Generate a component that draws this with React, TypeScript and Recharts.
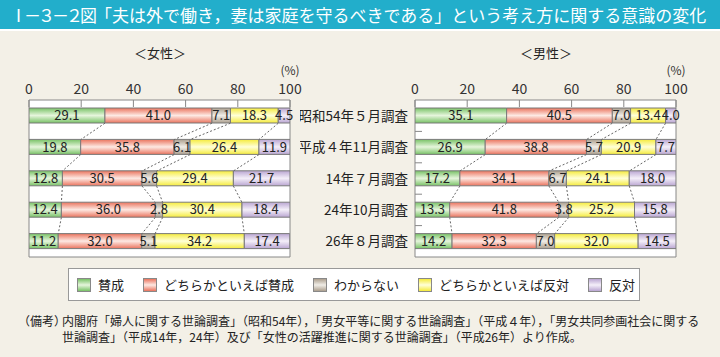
import { BarChart, Bar, XAxis, YAxis, CartesianGrid, LabelList, ReferenceLine } from "recharts";

const categories = ["昭和54年５月調査", "平成４年11月調査", "14年７月調査", "24年10月調査", "26年８月調査"];
const seriesNames = ["賛成", "どちらかといえば賛成", "わからない", "どちらかといえば反対", "反対"];
const xTicks = [0, 20, 40, 60, 80, 100];

const femaleAgree = [29.1, 19.8, 12.8, 12.4, 11.2];
const femaleSomewhatAgree = [41.0, 35.8, 30.5, 36.0, 32.0];
const femaleDontKnow = [7.1, 6.1, 5.6, 2.8, 5.1];
const femaleSomewhatDisagree = [18.3, 26.4, 29.4, 30.4, 34.2];
const femaleDisagree = [4.5, 11.9, 21.7, 18.4, 17.4];

const maleAgree = [35.1, 26.9, 17.2, 13.3, 14.2];
const maleSomewhatAgree = [40.5, 38.8, 34.1, 41.8, 32.3];
const maleDontKnow = [7.0, 5.7, 6.7, 3.8, 7.0];
const maleSomewhatDisagree = [13.4, 20.9, 24.1, 25.2, 32.0];
const maleDisagree = [4.0, 7.7, 18.0, 15.8, 14.5];

// edge colour / highlight colour for each series
const colors = [
  ["#78c266", "#e6f5dc"],
  ["#ea735d", "#fde9e3"],
  ["#ac9f8e", "#f0ede7"],
  ["#f5eb3c", "#ffffd8"],
  ["#baa6d2", "#f4eff9"],
];

const BAR = 15;
const PLOT_H = 157;
const BAND = PLOT_H / categories.length;
const FONT = "'Noto Sans CJK JP', 'Noto Sans', sans-serif";

function buildRows(series: number[][]) {
  return categories.map((label, i) => {
    const row: any = { label };
    series.forEach((s, k) => (row["s" + k] = s[i]));
    return row;
  });
}

function cumulative(series: number[][]) {
  return categories.map((_, i) => {
    let acc = 0;
    return series.map((s) => (acc += s[i]));
  });
}

const femaleSeries = [femaleAgree, femaleSomewhatAgree, femaleDontKnow, femaleSomewhatDisagree, femaleDisagree];
const maleSeries = [maleAgree, maleSomewhatAgree, maleDontKnow, maleSomewhatDisagree, maleDisagree];

const XTick = (p: any) => {
  const axisY = p.y + 6;
  return (
    <g>
      <text x={p.x} y={p.y} textAnchor="middle" fontSize={14} fill="#333">
        {p.payload.value}
      </text>
      {p.payload.value === 100 && (
        <text x={p.x} y={p.y - 19} textAnchor="middle" fontSize={12} fill="#333">
          (%)
        </text>
      )}
      <line x1={p.x} x2={p.x} y1={axisY} y2={axisY + 7} stroke="#888" />
    </g>
  );
};

const makeYTick = (showLabel: boolean) => (p: any) => (
  <g>
    {showLabel && (
      <text x={p.x - 7} y={p.y + 5} textAnchor="end" fontSize={13.5} fill="#222">
        {p.payload.value}
      </text>
    )}
    {p.index < categories.length - 1 && (
      <line x1={p.x} x2={p.x + 7} y1={p.y + BAND / 2} y2={p.y + BAND / 2} stroke="#888" />
    )}
  </g>
);

const connector = (p: any) => (
  <line
    x1={p.x1}
    y1={p.y1 + BAR / 2}
    x2={p.x2}
    y2={p.y2 - BAR / 2}
    stroke="#666"
    strokeDasharray="2 2"
  />
);

function Panel({ series, id, showLabels, left, width, yWidth }: any) {
  const rows = buildRows(series);
  const cum = cumulative(series);
  return (
    <div style={{ position: "absolute", left, top: 0 }}>
      <BarChart
        width={width}
        height={265}
        data={rows}
        layout="vertical"
        margin={{ top: 70, right: 14, bottom: 8, left: showLabels ? 0 : 29 }}
        barSize={BAR}
      >
        <defs>
          {colors.map((c, k) => (
            <linearGradient key={k} id={id + k} x1="0" y1="0" x2="0" y2="1">
              <stop offset="0" stopColor={c[0]} />
              <stop offset="0.5" stopColor={c[1]} />
              <stop offset="1" stopColor={c[0]} />
            </linearGradient>
          ))}
        </defs>
        <CartesianGrid
          fill="#fff"
          stroke="#888"
          verticalCoordinatesGenerator={({ offset }: any) => [offset.left, offset.left + offset.width]}
          horizontalCoordinatesGenerator={({ offset }: any) => [offset.top, offset.top + offset.height]}
        />
        <XAxis
          type="number"
          orientation="top"
          domain={[0, 100]}
          allowDataOverflow
          ticks={xTicks}
          interval={0}
          height={30}
          tickSize={0}
          tickMargin={6}
          axisLine={false}
          tickLine={false}
          tick={XTick}
        />
        <YAxis
          type="category"
          dataKey="label"
          width={yWidth}
          tickSize={0}
          tickMargin={0}
          axisLine={false}
          tickLine={false}
          interval={0}
          tick={makeYTick(showLabels)}
        />
        {seriesNames.map((name, k) => (
          <Bar
            key={k}
            dataKey={"s" + k}
            name={name}
            stackId="a"
            fill={`url(#${id}${k})`}
            stroke="#7a7a7a"
            strokeWidth={1}
            isAnimationActive={false}
          >
            <LabelList
              dataKey={"s" + k}
              position="center"
              formatter={(v: any) => Number(v).toFixed(1)}
              style={{ fill: "#222", fontSize: 13 }}
            />
          </Bar>
        ))}
        {categories.slice(0, -1).map((cat, i) =>
          [0, 1, 2, 3].map((k) => (
            <ReferenceLine
              key={`${i}-${k}`}
              ifOverflow="visible"
              segment={[
                { x: cum[i][k], y: cat },
                { x: cum[i + 1][k], y: categories[i + 1] },
              ]}
              shape={connector}
            />
          ))
        )}
      </BarChart>
    </div>
  );
}

export default function App() {
  return (
    <div
      style={{
        position: "absolute",
        left: 0,
        top: 0,
        width: 720,
        height: 357,
        background: "#f3f0e7",
        fontFamily: FONT,
        color: "#222",
        overflow: "hidden",
      }}
    >
      <div
        style={{
          position: "absolute",
          left: 0,
          top: 0,
          width: 720,
          height: 29,
          background: "#22aecb",
          borderBottom: "2px solid #fff",
          color: "#fff",
          fontSize: 17,
          lineHeight: "29px",
          whiteSpace: "nowrap",
        }}
      >
        <span style={{ position: "absolute", left: 10, letterSpacing: -3 }}>Ⅰ－３－２図</span>
        <span style={{ position: "absolute", left: 95 }}>
          「夫は外で働き，妻は家庭を守るべきである」という考え方に関する意識の変化
        </span>
      </div>

      <div style={{ position: "absolute", left: 110, width: 100, top: 43, textAlign: "center", fontSize: 13 }}>
        ＜女性＞
      </div>
      <div style={{ position: "absolute", left: 496, width: 100, top: 43, textAlign: "center", fontSize: 13 }}>
        ＜男性＞
      </div>

      <Panel series={femaleSeries} id="gf" showLabels={false} left={0} width={304} yWidth={0} />
      <Panel series={maleSeries} id="gm" showLabels={true} left={300} width={390} yWidth={115} />

      <div
        style={{
          position: "absolute",
          left: 68,
          top: 268,
          width: 562,
          height: 31,
          background: "#fff",
          border: "1px solid #999",
          display: "flex",
          alignItems: "center",
          paddingLeft: 8,
          boxSizing: "content-box",
          fontSize: 13,
          whiteSpace: "nowrap",
        }}
      >
        {seriesNames.map((name, k) => (
          <div key={k} style={{ display: "flex", alignItems: "center", marginRight: 19, flexShrink: 0 }}>
            <span
              style={{
                display: "inline-block",
                width: 12,
                height: 12,
                border: "1px solid #888",
                background: `linear-gradient(to bottom, ${colors[k][0]}, ${colors[k][1]}, ${colors[k][0]})`,
                marginRight: 7,
                flexShrink: 0,
              }}
            />
            <span>{name}</span>
          </div>
        ))}
      </div>

      <div style={{ position: "absolute", left: 18, top: 313, fontSize: 12, lineHeight: "16px", color: "#222" }}>
        （備考）
      </div>
      <div
        style={{
          position: "absolute",
          left: 62,
          top: 313,
          width: 650,
          fontSize: 12,
          lineHeight: "16px",
          color: "#222",
          whiteSpace: "nowrap",
        }}
      >
        <div>内閣府「婦人に関する世論調査」（昭和54年），「男女平等に関する世論調査」（平成４年），「男女共同参画社会に関する</div>
        <div>世論調査」（平成14年，24年）及び「女性の活躍推進に関する世論調査」（平成26年）より作成。</div>
      </div>
    </div>
  );
}
